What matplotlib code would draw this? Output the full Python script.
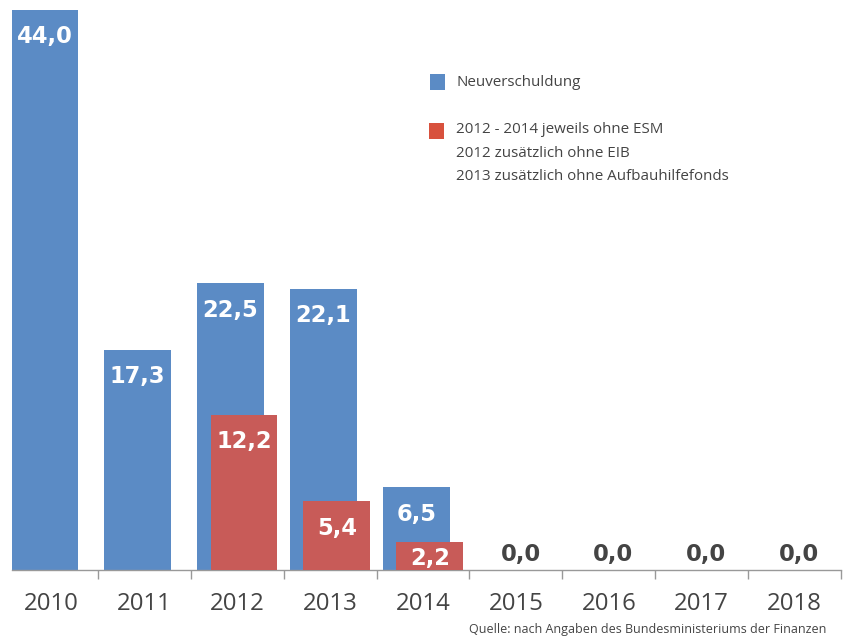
import matplotlib
matplotlib.use("Agg")
import matplotlib.pyplot as plt
from matplotlib.patches import Rectangle

plt.rcParams['font.family'] = ['Open Sans', 'DejaVu Sans']

years = ["2010", "2011", "2012", "2013", "2014", "2015", "2016", "2017", "2018"]
neuverschuldung = [44.0, 17.3, 22.5, 22.1, 6.5, 0.0, 0.0, 0.0, 0.0]
ohne_esm_years = ["2012", "2013", "2014"]
ohne_esm = [12.2, 5.4, 2.2]

legend_blue = "Neuverschuldung"
legend_red = ["2012 - 2014 jeweils ohne ESM",
              "2012 zusätzlich ohne EIB",
              "2013 zusätzlich ohne Aufbauhilfefonds"]
source = "Quelle: nach Angaben des Bundesministeriums der Finanzen"

BLUE = "#5b8bc5"
RED = "#c85b58"
LEG_RED = "#d8513d"
TXT = "#444444"

W, H = 843, 641
fig = plt.figure(figsize=(W / 100, H / 100), dpi=100)
ax = fig.add_axes([12 / W, 1 - 570 / H, 829 / W, 561 / H])

def fmt(v):
    return f"{v:.1f}".replace(".", ",")

x = list(range(len(years)))
bw = 67 / 93
off = 6.8 / 93
ax.bar([i - off for i in x], neuverschuldung, width=bw, color=BLUE, zorder=2)
rx = [years.index(y) + off for y in ohne_esm_years]
ax.bar(rx, ohne_esm, width=bw, color=RED, zorder=3)

ax.set_xlim(-0.425, 8.5)
ax.set_ylim(0, 44.05)

px_per_unit = 561 / 44.05
VFONT = dict(family="DejaVu Sans", fontweight="bold", fontsize=16.3)

def label(xc, v, z):
    hpx = v * px_per_unit
    d = hpx - 27
    if d < 12:
        d = 12
    ax.annotate(fmt(v), xy=(xc, 0), xytext=(0, d * 0.72), textcoords="offset points",
                ha="center", va="center", color="white", zorder=z, **VFONT)

for i, v in enumerate(neuverschuldung):
    if v > 0:
        label(i - off, v, 4)
    else:
        ax.annotate(fmt(v), xy=(i + 0.05, 0), xytext=(0, 15 * 0.72), textcoords="offset points",
                    ha="center", va="center", color=TXT, zorder=4, **VFONT)
for xc, v in zip(rx, ohne_esm):
    label(xc, v, 5)

for s in ["top", "right", "left"]:
    ax.spines[s].set_visible(False)
ax.spines["bottom"].set_color("#999999")
ax.spines["bottom"].set_linewidth(1.0)
ax.set_yticks([])
ax.set_xticks([i + 0.5 for i in x])
ax.set_xticklabels([])
ax.set_xticks(x, minor=True)
ax.set_xticklabels(years, minor=True)
ax.tick_params(axis="x", which="major", direction="out", length=6.5, width=1, color="#999999")
ax.tick_params(axis="x", which="minor", length=0, pad=15.5, labelsize=17.3, labelcolor=TXT)

# legend
fig.patches.append(Rectangle((430 / W, 1 - 90 / H), 15 / W, 16 / H, transform=fig.transFigure,
                             facecolor=BLUE, edgecolor="none"))
fig.text(456 / W, 1 - 82 / H, legend_blue, ha="left", va="center", fontsize=10.9, color=TXT)
fig.patches.append(Rectangle((429 / W, 1 - 139 / H), 15 / W, 16 / H, transform=fig.transFigure,
                             facecolor=LEG_RED, edgecolor="none"))
for k, t in enumerate(legend_red):
    fig.text(456 / W, 1 - (130 + 23.5 * k) / H, t, ha="left", va="center", fontsize=10.9, color=TXT)

fig.text(826 / W, 1 - 630 / H, source, ha="right", va="center", fontsize=9.0, color=TXT)

fig.savefig("out.png", dpi=100)
